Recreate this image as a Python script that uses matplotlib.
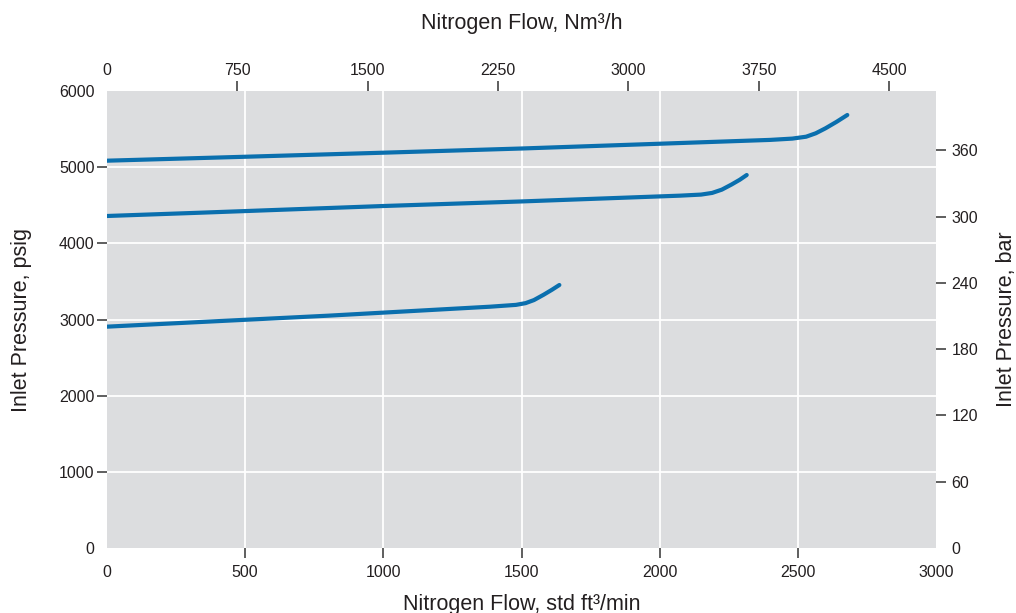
import matplotlib
matplotlib.use("Agg")
import matplotlib.pyplot as plt
from matplotlib.ticker import FixedLocator, FixedFormatter

plt.rcParams['font.family'] = ['Liberation Sans', 'DejaVu Sans']

# Curve data: flow (std ft3/min) vs inlet pressure (psig)
flow_a = [0, 503, 1000, 1500, 2146, 2400, 2480, 2530, 2565, 2600, 2640, 2679]
psig_a = [5085, 5137, 5190, 5245, 5326, 5358, 5375, 5400, 5445, 5510, 5595, 5685]

flow_b = [0, 337, 1000, 1500, 2074, 2150, 2190, 2225, 2260, 2290, 2315]
psig_b = [4359, 4402, 4490, 4550, 4626, 4640, 4662, 4705, 4772, 4835, 4897]

flow_c = [0, 337, 800, 1386, 1480, 1515, 1545, 1580, 1610, 1637]
psig_c = [2906, 2967, 3050, 3168, 3192, 3215, 3255, 3325, 3390, 3453]

bottom_ticks = [500, 1000, 1500, 2000, 2500]
left_ticks = [1000, 2000, 3000, 4000, 5000]
top_ticks = [750, 1500, 2250, 3000, 3750, 4500]
right_ticks = [60, 120, 180, 240, 300, 360]

SCFM_TO_NM3H = 1.59
PSI_PER_BAR = 14.5038

line_color = '#0a6fae'
text_color = '#231f20'
tick_color = '#333333'
bg = '#dcdddf'
tick_fs = 11.5
label_fs = 15.5
tick_len = 7.5

fig = plt.figure(figsize=(10.16, 6.13), dpi=100)
ax = fig.add_axes([107 / 1016, 65 / 613, 829 / 1016, 457 / 613])
ax.set_facecolor(bg)
for s in ax.spines.values():
    s.set_visible(False)

for fx, py in [(flow_a, psig_a), (flow_b, psig_b), (flow_c, psig_c)]:
    ax.plot(fx, py, color=line_color, lw=3.0, solid_capstyle='round',
            solid_joinstyle='round', zorder=3)

ax.set_xlim(0, 3000)
ax.set_ylim(0, 6000)

# bottom axis
ax.xaxis.set_major_locator(FixedLocator(bottom_ticks))
ax.xaxis.set_minor_locator(FixedLocator([0, 3000]))
ax.xaxis.set_minor_formatter(FixedFormatter(['0', '3000']))
# left axis
ax.yaxis.set_major_locator(FixedLocator(left_ticks))
ax.yaxis.set_minor_locator(FixedLocator([0, 6000]))
ax.yaxis.set_minor_formatter(FixedFormatter(['0', '6000']))

ax.tick_params(which='major', length=tick_len, width=1.1, color=tick_color,
               labelsize=tick_fs, labelcolor=text_color)
ax.tick_params(which='minor', length=0, labelsize=tick_fs, labelcolor=text_color)
ax.tick_params(axis='x', which='major', pad=4.5)
ax.tick_params(axis='x', which='minor', pad=tick_len + 4.5)
ax.tick_params(axis='y', which='major', pad=1.5)
ax.tick_params(axis='y', which='minor', pad=tick_len + 1.5)
ax.grid(True, which='major', color='white', lw=1.3)
ax.set_axisbelow(True)

ax.set_xlabel('Nitrogen Flow, std ft³/min', fontsize=label_fs, color=text_color, labelpad=10)
ax.set_ylabel('Inlet Pressure, psig', fontsize=label_fs, color=text_color, labelpad=19)

# top axis in Nm3/h
top = ax.secondary_xaxis('top', functions=(lambda x: x * SCFM_TO_NM3H,
                                           lambda x: x / SCFM_TO_NM3H))
top.xaxis.set_major_locator(FixedLocator(top_ticks))
top.xaxis.set_minor_locator(FixedLocator([0]))
top.xaxis.set_minor_formatter(FixedFormatter(['0']))
top.tick_params(which='major', length=tick_len, width=1.1, color=tick_color, pad=2,
                labelsize=tick_fs, labelcolor=text_color)
top.tick_params(which='minor', length=0, pad=tick_len + 2, labelsize=tick_fs,
                labelcolor=text_color)
for s in top.spines.values():
    s.set_visible(False)
top.set_xlabel('Nitrogen Flow, Nm³/h', fontsize=label_fs, color=text_color, labelpad=24)

# right axis in bar
right = ax.secondary_yaxis('right', functions=(lambda p: p / PSI_PER_BAR,
                                               lambda b: b * PSI_PER_BAR))
right.yaxis.set_major_locator(FixedLocator(right_ticks))
right.yaxis.set_minor_locator(FixedLocator([0]))
right.yaxis.set_minor_formatter(FixedFormatter(['0']))
right.tick_params(which='major', length=tick_len, width=1.1, color=tick_color, pad=3.5,
                  labelsize=tick_fs, labelcolor=text_color)
right.tick_params(which='minor', length=0, pad=tick_len + 3.5, labelsize=tick_fs,
                  labelcolor=text_color)
for s in right.spines.values():
    s.set_visible(False)
right.set_ylabel('Inlet Pressure, bar', fontsize=label_fs, color=text_color, labelpad=13)

fig.savefig('out.png', dpi=100)
